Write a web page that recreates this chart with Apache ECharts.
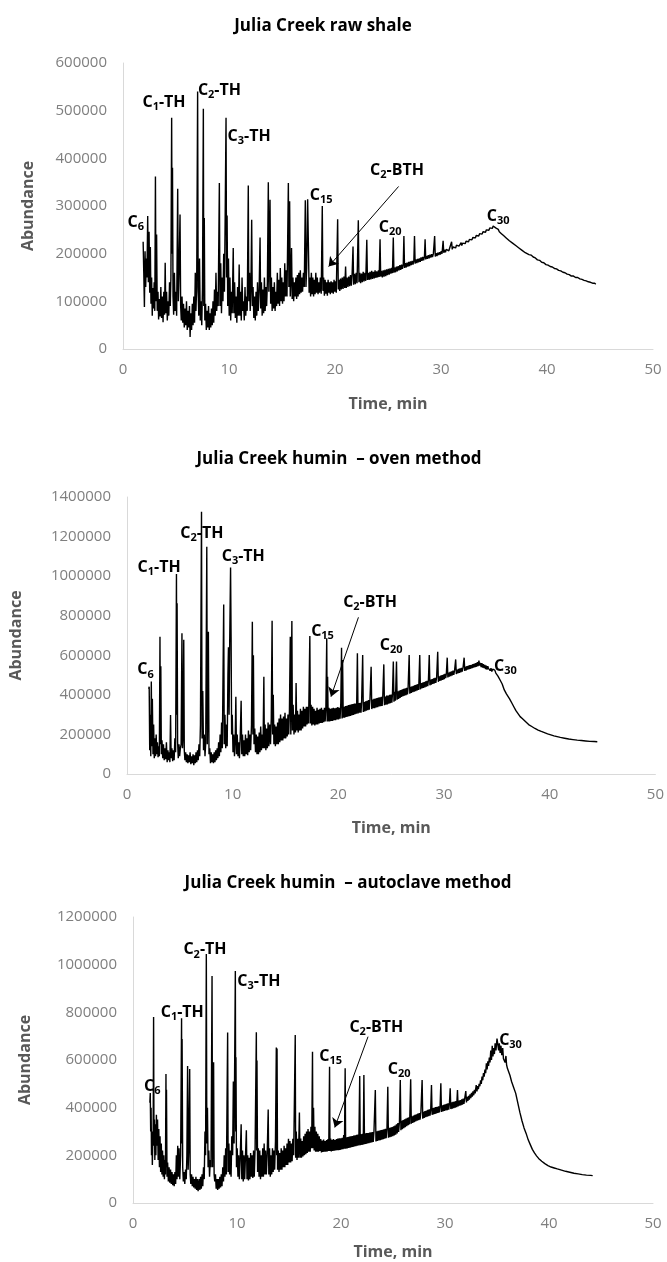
<!DOCTYPE html>
<html>
<head>
<meta charset="utf-8">
<script src="https://cdn.jsdelivr.net/npm/echarts@6/dist/echarts.min.js"></script>
<style>
  html, body { margin: 0; padding: 0; background: #fff; }
  #chart { width: 667px; height: 1262px; }
</style>
</head>
<body>
<div id="chart"></div>
<script>
// chromatogram traces: [time (min), abundance]
var rawShale = [
  [1.9,225e3],[1.96,160e3],[2.02,88e3],[2.08,205e3],[2.14,130e3],[2.2,190e3],[2.26,150e3],[2.33,279e3],[2.39,140e3],[2.46,246e3],
  [2.52,118e3],[2.58,214e3],[2.64,95e3],[2.7,150e3],[2.76,70e3],[2.82,128e3],[2.88,85e3],[2.94,140e3],[3.0,80e3],[3.06,362e3],
  [3.11,100e3],[3.17,240e3],[3.23,80e3],[3.3,120e3],[3.36,62e3],[3.43,105e3],[3.5,68e3],[3.57,130e3],[3.64,65e3],[3.71,110e3],
  [3.78,56e3],[3.85,120e3],[3.92,72e3],[3.98,181e3],[4.04,75e3],[4.11,120e3],[4.18,60e3],[4.25,100e3],[4.32,70e3],[4.39,140e3],
  [4.46,90e3],[4.52,150e3],[4.59,485e3],[4.63,200e3],[4.67,380e3],[4.72,110e3],[4.78,72e3],[4.85,160e3],[4.92,80e3],[4.99,120e3],
  [5.06,70e3],[5.16,336e3],[5.22,100e3],[5.28,150e3],[5.38,282e3],[5.44,90e3],[5.5,60e3],[5.57,110e3],[5.64,55e3],[5.71,95e3],
  [5.78,45e3],[5.85,85e3],[5.92,50e3],[5.99,100e3],[6.06,40e3],[6.13,80e3],[6.2,45e3],[6.27,90e3],[6.33,25e3],[6.4,75e3],
  [6.47,40e3],[6.54,95e3],[6.61,50e3],[6.68,110e3],[6.75,55e3],[6.82,160e3],[6.88,80e3],[6.95,130e3],[7.04,540e3],[7.09,120e3],
  [7.15,70e3],[7.22,190e3],[7.29,60e3],[7.36,100e3],[7.43,50e3],[7.5,130e3],[7.58,504e3],[7.62,90e3],[7.67,275e3],[7.72,60e3],
  [7.79,95e3],[7.86,40e3],[7.93,80e3],[8.0,45e3],[8.07,90e3],[8.14,40e3],[8.21,75e3],[8.28,45e3],[8.35,85e3],[8.42,50e3],
  [8.49,100e3],[8.56,55e3],[8.63,125e3],[8.7,70e3],[8.77,160e3],[8.84,80e3],[8.91,120e3],[8.98,90e3],[9.09,348e3],[9.15,90e3],
  [9.22,180e3],[9.29,75e3],[9.36,150e3],[9.43,100e3],[9.5,200e3],[9.57,120e3],[9.64,280e3],[9.72,485e3],[9.77,150e3],[9.82,280e3],
  [9.88,90e3],[9.95,190e3],[10.02,70e3],[10.09,150e3],[10.16,60e3],[10.23,120e3],[10.3,75e3],[10.4,212e3],[10.46,75e3],[10.53,140e3],
  [10.6,65e3],[10.67,110e3],[10.74,55e3],[10.81,130e3],[10.88,70e3],[10.96,177e3],[11.02,70e3],[11.09,120e3],[11.16,60e3],[11.23,150e3],
  [11.3,80e3],[11.37,100e3],[11.44,60e3],[11.51,130e3],[11.58,70e3],[11.65,110e3],[11.72,80e3],[11.82,343e3],[11.87,100e3],[11.94,160e3],
  [12.0,80e3],[12.07,130e3],[12.14,271e3],[12.2,90e3],[12.27,130e3],[12.34,65e3],[12.41,110e3],[12.48,60e3],[12.55,120e3],[12.62,70e3],
  [12.69,140e3],[12.76,80e3],[12.84,120e3],[12.93,234e3],[12.99,85e3],[13.06,140e3],[13.13,70e3],[13.2,125e3],[13.27,75e3],[13.34,150e3],
  [13.41,80e3],[13.48,130e3],[13.55,90e3],[13.62,140e3],[13.71,350e3],[13.76,120e3],[13.81,200e3],[13.87,313e3],[13.93,95e3],[14.0,150e3],
  [14.07,80e3],[14.14,130e3],[14.21,85e3],[14.28,140e3],[14.35,80e3],[14.42,120e3],[14.49,90e3],[14.56,160e3],[14.63,95e3],[14.7,145e3],
  [14.77,90e3],[14.84,170e3],[14.91,100e3],[14.98,150e3],[15.05,95e3],[15.12,140e3],[15.19,100e3],[15.26,180e3],[15.33,110e3],[15.4,165e3],
  [15.47,110e3],[15.6,348e3],[15.65,130e3],[15.72,310e3],[15.78,110e3],[15.85,160e3],[15.9,212e3],[15.96,105e3],[16.03,150e3],[16.1,100e3],
  [16.17,140e3],[16.24,110e3],[16.31,150e3],[16.38,105e3],[16.45,155e3],[16.52,110e3],[16.59,160e3],[16.66,115e3],[16.73,165e3],[16.8,118e3],
  [16.87,150e3],[16.94,120e3],[17.02,160e3],[17.1,130e3],[17.2,312e3],[17.26,130e3],[17.33,170e3],[17.42,314e3],[17.5,205e3],[17.56,118e3],
  [17.63,150e3],[17.7,110e3],[17.77,160e3],[17.84,115e3],[17.91,150e3],[17.98,110e3],[18.05,145e3],[18.12,115e3],[18.19,160e3],[18.26,118e3],
  [18.33,150e3],[18.4,115e3],[18.47,140e3],[18.54,118e3],[18.62,150e3],[18.7,116e3],[18.8,300e3],[18.86,122e3],[18.93,150e3],[19.0,112e3],
  [19.07,145e3],[19.14,116e3],[19.21,140e3],[19.28,112e3],[19.35,145e3],[19.42,118e3],[19.49,140e3],[19.56,115e3],[19.63,142e3],[19.7,118e3],
  [19.77,140e3],[19.84,116e3],[19.91,145e3],[19.98,120e3],[20.05,142e3],[20.12,118e3],[20.25,272e3],[20.31,125e3],[20.38,145e3],[20.45,122e3],
  [20.52,148e3],[20.6,125e3],[20.68,150e3],[20.76,126e3],[20.84,152e3],[20.92,128e3],[21.0,173e3],[21.06,128e3],[21.14,150e3],[21.22,130e3],
  [21.3,152e3],[21.38,132e3],[21.46,155e3],[21.54,133e3],[21.62,160e3],[21.7,215e3],[21.76,135e3],[21.84,158e3],[21.92,136e3],[22.0,160e3],
  [22.08,138e3],[22.2,270e3],[22.26,140e3],[22.34,160e3],[22.42,138e3],[22.5,158e3],[22.58,140e3],[22.66,162e3],[22.74,142e3],[22.82,160e3],
  [22.9,143e3],[23.0,229e3],[23.06,145e3],[23.14,160e3],[23.22,145e3],[23.3,162e3],[23.38,146e3],[23.46,164e3],[23.54,147e3],[23.62,162e3],
  [23.7,148e3],[23.78,165e3],[23.86,149e3],[23.94,163e3],[24.02,150e3],[24.1,165e3],[24.17,151e3],[24.25,230e3],[24.31,152e3],[24.39,164e3],
  [24.47,150e3],[24.55,165e3],[24.63,152e3],[24.71,166e3],[24.79,153e3],[24.87,167e3],[24.95,155e3],[25.03,168e3],[25.11,156e3],[25.19,169e3],
  [25.27,158e3],[25.35,170e3],[25.42,159e3],[25.5,234e3],[25.56,160e3],[25.64,171e3],[25.72,161e3],[25.8,173e3],[25.88,163e3],[25.96,174e3],
  [26.04,165e3],[26.12,176e3],[26.2,166e3],[26.28,177e3],[26.36,168e3],[26.44,178e3],[26.5,237e3],[26.56,170e3],[26.64,180e3],[26.72,171e3],
  [26.8,181e3],[26.88,173e3],[26.96,183e3],[27.04,174e3],[27.12,184e3],[27.2,176e3],[27.28,185e3],[27.36,177e3],[27.44,186e3],[27.5,237e3],
  [27.56,179e3],[27.64,188e3],[27.72,180e3],[27.8,189e3],[27.88,182e3],[27.96,190e3],[28.04,183e3],[28.12,192e3],[28.2,185e3],[28.28,193e3],
  [28.36,186e3],[28.44,194e3],[28.5,230e3],[28.56,188e3],[28.64,195e3],[28.72,189e3],[28.8,197e3],[28.88,190e3],[28.96,198e3],[29.04,192e3],
  [29.12,199e3],[29.2,193e3],[29.28,200e3],[29.4,237e3],[29.46,194e3],[29.54,201e3],[29.62,195e3],[29.7,202e3],[29.78,197e3],[29.86,203e3],
  [29.94,198e3],[30.02,205e3],[30.1,200e3],[30.2,227e3],[30.26,202e3],[30.34,208e3],[30.42,203e3],[30.5,209e3],[30.58,205e3],[30.66,211e3],
  [30.74,206e3],[30.82,212e3],[30.9,208e3],[31.0,225e3],[31.06,209e3],[31.14,214e3],[31.22,211e3],[31.3,216e3],[31.38,212e3],[31.46,218e3],
  [31.54,214e3],[31.62,219e3],[31.7,216e3],[31.78,220e3],[31.9,223e3],[31.96,217e3],[32.04,222e3],[32.12,219e3],[32.2,224e3],[32.28,221e3],
  [32.36,226e3],[32.44,223e3],[32.52,228e3],[32.6,225e3],[32.68,230e3],[32.76,227e3],[32.84,232e3],[32.92,229e3],[33.0,234e3],[33.08,231e3],
  [33.16,236e3],[33.24,233e3],[33.32,238e3],[33.4,235e3],[33.48,240e3],[33.56,237e3],[33.64,242e3],[33.72,239e3],[33.8,244e3],[33.88,241e3],
  [33.96,246e3],[34.04,243e3],[34.12,248e3],[34.2,245e3],[34.28,250e3],[34.36,247e3],[34.44,252e3],[34.52,249e3],[34.6,254e3],[34.68,251e3],
  [34.76,256e3],[34.84,253e3],[34.92,258e3],[35.0,255e3],[35.08,259e3],[35.16,254e3],[35.24,256e3],[35.32,250e3],[35.4,251e3],[35.5,246e3],
  [35.6,247e3],[35.7,242e3],[35.8,242e3],[35.9,238e3],[36.0,237e3],[36.15,233e3],[36.3,231e3],[36.45,227e3],[36.6,226e3],[36.75,222e3],
  [36.9,221e3],[37.05,217e3],[37.2,216e3],[37.35,212e3],[37.5,211e3],[37.65,207e3],[37.8,206e3],[37.95,202e3],[38.1,202e3],[38.3,198e3],
  [38.5,197e3],[38.7,193e3],[38.9,191e3],[39.1,187e3],[39.3,186e3],[39.5,182e3],[39.7,181e3],[39.9,177e3],[40.1,176e3],[40.3,173e3],
  [40.5,172e3],[40.7,169e3],[40.9,168e3],[41.1,165e3],[41.3,164e3],[41.5,161e3],[41.7,160e3],[41.9,157e3],[42.1,156e3],[42.3,153e3],
  [42.5,153e3],[42.7,150e3],[42.9,150e3],[43.1,147e3],[43.3,146e3],[43.5,144e3],[43.7,143e3],[43.9,141e3],[44.1,140e3],[44.3,138e3],
  [44.5,138e3],[44.6,136e3]
];

var ovenHumin = [
  [2.05,430e3],[2.1,441e3],[2.15,120e3],[2.2,300e3],[2.25,90e3],[2.3,467e3],[2.35,140e3],[2.4,380e3],[2.46,100e3],[2.52,250e3],
  [2.58,80e3],[2.64,180e3],[2.7,90e3],[2.76,200e3],[2.82,100e3],[2.88,160e3],[2.94,85e3],[3.0,140e3],[3.06,90e3],[3.12,694e3],
  [3.16,150e3],[3.2,545e3],[3.25,100e3],[3.31,170e3],[3.38,80e3],[3.45,150e3],[3.52,70e3],[3.59,130e3],[3.66,75e3],[3.73,160e3],
  [3.8,60e3],[3.87,120e3],[3.94,70e3],[4.0,110e3],[4.06,60e3],[4.12,298e3],[4.18,80e3],[4.25,130e3],[4.32,65e3],[4.39,120e3],
  [4.46,70e3],[4.53,180e3],[4.6,110e3],[4.68,1011e3],[4.71,300e3],[4.74,863e3],[4.79,160e3],[4.85,80e3],[4.92,150e3],[4.98,90e3],
  [5.05,130e3],[5.12,150e3],[5.2,711e3],[5.25,130e3],[5.31,200e3],[5.37,678e3],[5.42,120e3],[5.48,70e3],[5.55,110e3],[5.62,60e3],
  [5.69,100e3],[5.76,55e3],[5.83,95e3],[5.9,60e3],[5.97,110e3],[6.04,50e3],[6.11,90e3],[6.18,55e3],[6.25,100e3],[6.32,45e3],
  [6.39,95e3],[6.46,55e3],[6.53,110e3],[6.6,60e3],[6.67,120e3],[6.74,70e3],[6.81,150e3],[6.88,90e3],[6.95,250e3],[7.05,1326e3],
  [7.1,180e3],[7.17,420e3],[7.24,120e3],[7.31,200e3],[7.38,90e3],[7.45,160e3],[7.55,1149e3],[7.6,150e3],[7.66,400e3],[7.7,719e3],
  [7.76,100e3],[7.83,130e3],[7.9,55e3],[7.97,110e3],[8.04,60e3],[8.11,100e3],[8.18,55e3],[8.25,110e3],[8.32,60e3],[8.39,120e3],
  [8.46,70e3],[8.53,130e3],[8.6,80e3],[8.67,160e3],[8.74,90e3],[8.81,200e3],[8.88,110e3],[8.95,260e3],[9.02,130e3],[9.15,857e3],
  [9.2,150e3],[9.27,300e3],[9.34,130e3],[9.41,250e3],[9.48,140e3],[9.55,500e3],[9.6,640e3],[9.66,300e3],[9.72,680e3],[9.8,1044e3],
  [9.85,690e3],[9.9,200e3],[9.96,300e3],[10.03,110e3],[10.1,200e3],[10.17,90e3],[10.24,180e3],[10.3,391e3],[10.36,100e3],[10.43,200e3],
  [10.5,90e3],[10.57,160e3],[10.64,80e3],[10.71,180e3],[10.8,370e3],[10.86,100e3],[10.93,200e3],[11.0,90e3],[11.07,170e3],[11.14,90e3],
  [11.21,200e3],[11.28,100e3],[11.35,180e3],[11.42,95e3],[11.49,220e3],[11.56,110e3],[11.63,200e3],[11.7,120e3],[11.78,250e3],[11.86,770e3],
  [11.91,200e3],[11.96,600e3],[12.02,150e3],[12.09,230e3],[12.16,110e3],[12.23,200e3],[12.3,100e3],[12.37,190e3],[12.44,100e3],[12.51,210e3],
  [12.58,110e3],[12.65,240e3],[12.72,120e3],[12.8,200e3],[12.87,130e3],[12.95,492e3],[13.0,130e3],[13.07,250e3],[13.14,120e3],[13.21,230e3],
  [13.28,130e3],[13.35,260e3],[13.42,140e3],[13.5,250e3],[13.58,150e3],[13.65,280e3],[13.73,775e3],[13.78,200e3],[13.84,400e3],[13.9,150e3],
  [13.97,250e3],[14.04,140e3],[14.11,240e3],[14.18,150e3],[14.25,260e3],[14.32,150e3],[14.39,280e3],[14.46,160e3],[14.53,300e3],[14.6,170e3],
  [14.67,280e3],[14.74,170e3],[14.81,290e3],[14.88,180e3],[14.95,310e3],[15.02,180e3],[15.09,280e3],[15.16,190e3],[15.23,300e3],[15.3,200e3],
  [15.37,320e3],[15.45,694e3],[15.5,200e3],[15.6,773e3],[15.65,220e3],[15.72,350e3],[15.8,200e3],[15.87,300e3],[15.94,210e3],[16.0,460e3],
  [16.06,220e3],[16.13,320e3],[16.2,210e3],[16.27,300e3],[16.34,220e3],[16.41,330e3],[16.48,220e3],[16.55,320e3],[16.62,230e3],[16.69,340e3],
  [16.76,240e3],[16.83,330e3],[16.9,240e3],[16.97,340e3],[17.04,250e3],[17.11,340e3],[17.18,255e3],[17.3,697e3],[17.35,255e3],[17.42,350e3],
  [17.49,245e3],[17.56,340e3],[17.63,250e3],[17.7,330e3],[17.77,245e3],[17.84,320e3],[17.91,250e3],[17.98,335e3],[18.05,250e3],[18.12,325e3],
  [18.19,255e3],[18.26,330e3],[18.33,258e3],[18.4,335e3],[18.47,258e3],[18.54,325e3],[18.61,262e3],[18.68,335e3],[18.75,265e3],[18.82,340e3],
  [18.9,686e3],[18.94,265e3],[18.98,492e3],[19.04,265e3],[19.11,335e3],[19.18,265e3],[19.25,330e3],[19.32,268e3],[19.39,332e3],[19.46,268e3],
  [19.53,335e3],[19.6,272e3],[19.67,332e3],[19.74,272e3],[19.81,335e3],[19.88,276e3],[19.95,338e3],[20.02,276e3],[20.09,335e3],[20.16,280e3],
  [20.23,360e3],[20.3,638e3],[20.35,280e3],[20.4,576e3],[20.46,285e3],[20.53,340e3],[20.6,285e3],[20.67,343e3],[20.74,288e3],[20.81,345e3],
  [20.88,290e3],[20.95,348e3],[21.02,292e3],[21.09,350e3],[21.16,294e3],[21.23,352e3],[21.3,297e3],[21.37,353e3],[21.44,298e3],[21.51,356e3],
  [21.58,302e3],[21.65,356e3],[21.72,305e3],[21.8,610e3],[21.86,306e3],[21.93,358e3],[22.0,310e3],[22.07,360e3],[22.14,310e3],[22.2,364e3],
  [22.3,601e3],[22.36,314e3],[22.43,364e3],[22.5,316e3],[22.57,368e3],[22.64,320e3],[22.71,370e3],[22.78,322e3],[22.85,374e3],[22.92,325e3],
  [22.99,375e3],[23.1,542e3],[23.16,328e3],[23.23,376e3],[23.3,332e3],[23.37,380e3],[23.44,333e3],[23.51,381e3],[23.58,336e3],[23.65,384e3],
  [23.72,338e3],[23.79,386e3],[23.86,341e3],[23.93,387e3],[24.0,343e3],[24.07,390e3],[24.14,344e3],[24.2,391e3],[24.3,554e3],[24.36,348e3],
  [24.43,392e3],[24.5,350e3],[24.57,396e3],[24.64,352e3],[24.71,397e3],[24.78,355e3],[24.85,400e3],[24.92,358e3],[24.99,402e3],[25.06,360e3],
  [25.12,405e3],[25.2,568e3],[25.26,365e3],[25.33,415e3],[25.4,370e3],[25.5,568e3],[25.56,375e3],[25.63,418e3],[25.7,380e3],[25.77,422e3],
  [25.84,385e3],[25.91,424e3],[25.98,390e3],[26.05,428e3],[26.12,393e3],[26.19,430e3],[26.26,396e3],[26.33,433e3],[26.4,399e3],[26.47,435e3],
  [26.54,402e3],[26.6,438e3],[26.7,601e3],[26.76,406e3],[26.83,440e3],[26.9,410e3],[26.97,443e3],[27.04,413e3],[27.11,446e3],[27.18,416e3],
  [27.25,449e3],[27.32,419e3],[27.39,452e3],[27.46,422e3],[27.53,454e3],[27.6,425e3],[27.7,601e3],[27.76,428e3],[27.83,459e3],[27.9,432e3],
  [27.97,462e3],[28.04,435e3],[28.11,465e3],[28.18,438e3],[28.25,468e3],[28.32,441e3],[28.39,471e3],[28.46,444e3],[28.52,474e3],[28.6,601e3],
  [28.66,448e3],[28.73,477e3],[28.8,452e3],[28.87,480e3],[28.94,455e3],[29.01,483e3],[29.08,458e3],[29.15,486e3],[29.22,461e3],[29.3,490e3],
  [29.4,618e3],[29.46,466e3],[29.53,493e3],[29.6,470e3],[29.67,497e3],[29.74,473e3],[29.81,500e3],[29.88,476e3],[29.95,503e3],[30.02,480e3],
  [30.09,506e3],[30.16,484e3],[30.22,510e3],[30.3,588e3],[30.36,488e3],[30.43,513e3],[30.5,492e3],[30.57,516e3],[30.64,495e3],[30.71,519e3],
  [30.78,498e3],[30.85,522e3],[30.92,501e3],[31.0,525e3],[31.1,579e3],[31.16,505e3],[31.23,528e3],[31.3,508e3],[31.37,531e3],[31.44,511e3],
  [31.51,534e3],[31.58,514e3],[31.65,536e3],[31.72,517e3],[31.8,539e3],[31.9,588e3],[31.96,521e3],[32.03,542e3],[32.1,524e3],[32.17,545e3],
  [32.24,527e3],[32.31,548e3],[32.38,530e3],[32.45,550e3],[32.52,532e3],[32.59,552e3],[32.66,535e3],[32.73,555e3],[32.8,538e3],[32.87,558e3],
  [32.94,540e3],[33.01,560e3],[33.08,542e3],[33.15,565e3],[33.22,545e3],[33.3,573e3],[33.37,548e3],[33.44,562e3],[33.51,540e3],[33.58,560e3],
  [33.65,538e3],[33.72,555e3],[33.79,535e3],[33.86,552e3],[33.93,530e3],[34.0,548e3],[34.07,528e3],[34.14,545e3],[34.2,534e3],[34.28,540e3],
  [34.36,522e3],[34.44,535e3],[34.52,518e3],[34.6,530e3],[34.7,520e3],[34.8,525e3],[34.9,510e3],[35.0,505e3],[35.1,495e3],[35.2,485e3],
  [35.3,475e3],[35.4,470e3],[35.5,455e3],[35.6,440e3],[35.7,425e3],[35.8,415e3],[35.9,405e3],[36.0,398e3],[36.2,380e3],[36.4,360e3],
  [36.6,340e3],[36.8,320e3],[37.0,305e3],[37.2,290e3],[37.4,280e3],[37.6,270e3],[37.8,260e3],[38.0,250e3],[38.3,240e3],[38.6,230e3],
  [38.9,222e3],[39.2,215e3],[39.5,209e3],[39.8,203e3],[40.1,198e3],[40.4,193e3],[40.7,189e3],[41.0,185e3],[41.4,181e3],[41.8,177e3],
  [42.2,174e3],[42.6,171e3],[43.0,169e3],[43.4,167e3],[43.8,165e3],[44.2,164e3],[44.5,163e3]
];

var autoclaveHumin = [
  [1.62,420e3],[1.66,461e3],[1.7,300e3],[1.74,400e3],[1.78,200e3],[1.82,300e3],[1.86,160e3],[1.9,250e3],[1.94,300e3],[1.98,780e3],
  [2.02,240e3],[2.06,350e3],[2.1,180e3],[2.15,330e3],[2.2,200e3],[2.25,370e3],[2.3,240e3],[2.36,350e3],[2.42,180e3],[2.48,310e3],
  [2.54,150e3],[2.6,280e3],[2.66,130e3],[2.72,250e3],[2.78,120e3],[2.84,220e3],[2.9,110e3],[2.96,200e3],[3.02,100e3],[3.08,180e3],
  [3.12,120e3],[3.17,541e3],[3.2,150e3],[3.22,475e3],[3.27,110e3],[3.33,170e3],[3.4,90e3],[3.47,150e3],[3.54,85e3],[3.61,140e3],
  [3.68,80e3],[3.75,130e3],[3.82,75e3],[3.89,120e3],[3.96,70e3],[4.03,130e3],[4.1,80e3],[4.17,200e3],[4.23,100e3],[4.3,240e3],
  [4.36,110e3],[4.43,230e3],[4.5,100e3],[4.58,200e3],[4.67,775e3],[4.7,250e3],[4.72,688e3],[4.78,150e3],[4.84,90e3],[4.91,130e3],
  [4.98,80e3],[5.05,140e3],[5.12,100e3],[5.18,200e3],[5.25,575e3],[5.3,140e3],[5.36,220e3],[5.45,562e3],[5.5,120e3],[5.56,80e3],
  [5.63,120e3],[5.7,70e3],[5.77,110e3],[5.84,65e3],[5.91,100e3],[5.98,60e3],[6.05,110e3],[6.12,55e3],[6.19,100e3],[6.26,50e3],
  [6.3,42e3],[6.36,100e3],[6.43,55e3],[6.5,110e3],[6.57,60e3],[6.64,120e3],[6.71,70e3],[6.78,150e3],[6.85,100e3],[6.92,300e3],
  [6.98,200e3],[7.05,1045e3],[7.1,250e3],[7.16,400e3],[7.22,150e3],[7.29,220e3],[7.36,110e3],[7.43,180e3],[7.5,150e3],[7.6,952e3],
  [7.65,150e3],[7.7,400e3],[7.75,591e3],[7.8,120e3],[7.86,90e3],[7.93,120e3],[8.0,60e3],[8.07,100e3],[8.14,55e3],[8.21,100e3],
  [8.28,60e3],[8.35,110e3],[8.42,65e3],[8.49,120e3],[8.56,70e3],[8.63,150e3],[8.7,90e3],[8.77,200e3],[8.84,110e3],[8.91,230e3],
  [8.98,120e3],[9.1,715e3],[9.15,130e3],[9.22,250e3],[9.29,120e3],[9.36,220e3],[9.43,110e3],[9.5,280e3],[9.58,200e3],[9.65,510e3],
  [9.72,250e3],[9.84,973e3],[9.88,300e3],[9.9,612e3],[9.95,150e3],[10.02,230e3],[10.09,110e3],[10.16,200e3],[10.23,100e3],[10.3,180e3],
  [10.4,330e3],[10.46,100e3],[10.53,220e3],[10.6,90e3],[10.67,200e3],[10.74,100e3],[10.81,190e3],[10.9,305e3],[10.96,100e3],[11.03,200e3],
  [11.1,95e3],[11.17,190e3],[11.24,100e3],[11.31,210e3],[11.38,110e3],[11.45,200e3],[11.52,105e3],[11.59,220e3],[11.66,110e3],[11.74,230e3],
  [11.86,716e3],[11.89,220e3],[11.92,598e3],[11.98,130e3],[12.05,230e3],[12.12,110e3],[12.19,220e3],[12.26,100e3],[12.33,200e3],[12.4,110e3],
  [12.47,230e3],[12.54,110e3],[12.61,250e3],[12.68,120e3],[12.75,220e3],[12.82,120e3],[12.9,200e3],[13.0,392e3],[13.06,120e3],[13.13,230e3],
  [13.2,110e3],[13.27,200e3],[13.34,120e3],[13.41,230e3],[13.48,130e3],[13.55,220e3],[13.62,140e3],[13.7,260e3],[13.78,652e3],[13.82,200e3],
  [13.85,648e3],[13.9,140e3],[13.97,220e3],[14.04,130e3],[14.11,210e3],[14.18,140e3],[14.25,230e3],[14.32,140e3],[14.39,220e3],[14.46,150e3],
  [14.53,240e3],[14.6,150e3],[14.67,230e3],[14.74,160e3],[14.81,250e3],[14.88,160e3],[14.95,270e3],[15.02,170e3],[15.09,260e3],[15.16,170e3],
  [15.23,250e3],[15.3,175e3],[15.37,270e3],[15.45,200e3],[15.6,705e3],[15.64,190e3],[15.7,300e3],[15.77,180e3],[15.84,270e3],[15.91,190e3],
  [16.0,380e3],[16.06,190e3],[16.13,270e3],[16.2,190e3],[16.27,260e3],[16.34,195e3],[16.41,280e3],[16.48,200e3],[16.55,290e3],[16.62,205e3],
  [16.69,300e3],[16.76,210e3],[16.83,310e3],[16.9,215e3],[16.97,300e3],[17.04,215e3],[17.11,320e3],[17.18,230e3],[17.26,635e3],[17.3,230e3],
  [17.36,400e3],[17.42,220e3],[17.49,320e3],[17.56,215e3],[17.63,300e3],[17.7,215e3],[17.77,290e3],[17.84,215e3],[17.91,280e3],[17.98,218e3],
  [18.05,268e3],[18.12,212e3],[18.19,262e3],[18.26,214e3],[18.33,266e3],[18.4,215e3],[18.47,260e3],[18.54,215e3],[18.61,264e3],[18.68,216e3],
  [18.75,268e3],[18.82,218e3],[18.9,572e3],[18.94,218e3],[19.0,270e3],[19.07,216e3],[19.14,265e3],[19.21,218e3],[19.28,268e3],[19.35,219e3],
  [19.42,264e3],[19.49,220e3],[19.56,268e3],[19.63,221e3],[19.7,270e3],[19.77,222e3],[19.84,272e3],[19.91,223e3],[19.98,272e3],[20.05,225e3],
  [20.12,274e3],[20.19,226e3],[20.26,285e3],[20.33,228e3],[20.4,565e3],[20.45,228e3],[20.52,276e3],[20.59,229e3],[20.66,277e3],[20.73,231e3],
  [20.8,279e3],[20.87,232e3],[20.94,280e3],[21.01,234e3],[21.08,281e3],[21.15,235e3],[21.22,283e3],[21.29,237e3],[21.36,284e3],[21.43,238e3],
  [21.5,286e3],[21.57,240e3],[21.64,287e3],[21.71,241e3],[21.8,533e3],[21.85,242e3],[21.92,289e3],[22.0,244e3],[22.07,290e3],[22.14,245e3],
  [22.2,537e3],[22.26,247e3],[22.33,292e3],[22.4,248e3],[22.47,293e3],[22.54,250e3],[22.61,294e3],[22.68,251e3],[22.75,296e3],[22.82,253e3],
  [22.89,297e3],[22.96,254e3],[23.03,298e3],[23.1,256e3],[23.17,300e3],[23.3,474e3],[23.36,258e3],[23.43,301e3],[23.5,260e3],[23.57,303e3],
  [23.64,262e3],[23.71,304e3],[23.78,264e3],[23.85,306e3],[23.92,266e3],[23.99,307e3],[24.06,268e3],[24.13,309e3],[24.2,270e3],[24.27,311e3],
  [24.34,272e3],[24.42,313e3],[24.5,488e3],[24.56,274e3],[24.63,315e3],[24.7,276e3],[24.77,317e3],[24.84,278e3],[24.91,319e3],[24.98,280e3],
  [25.05,322e3],[25.12,283e3],[25.19,325e3],[25.26,287e3],[25.33,330e3],[25.4,292e3],[25.47,335e3],[25.54,298e3],[25.62,340e3],[25.7,516e3],
  [25.76,305e3],[25.83,345e3],[25.9,310e3],[25.97,348e3],[26.04,314e3],[26.11,351e3],[26.18,318e3],[26.25,354e3],[26.32,322e3],[26.39,357e3],
  [26.46,326e3],[26.53,360e3],[26.6,330e3],[26.7,519e3],[26.76,333e3],[26.83,364e3],[26.9,336e3],[26.97,367e3],[27.04,339e3],[27.11,370e3],
  [27.18,342e3],[27.25,372e3],[27.32,345e3],[27.39,375e3],[27.46,348e3],[27.53,377e3],[27.6,350e3],[27.68,380e3],[27.8,516e3],[27.86,354e3],
  [27.93,383e3],[28.0,357e3],[28.07,386e3],[28.14,360e3],[28.21,388e3],[28.28,362e3],[28.35,391e3],[28.42,364e3],[28.49,393e3],[28.56,366e3],
  [28.63,395e3],[28.7,495e3],[28.76,370e3],[28.83,398e3],[28.9,372e3],[28.97,400e3],[29.04,374e3],[29.11,402e3],[29.18,376e3],[29.25,404e3],
  [29.32,378e3],[29.39,406e3],[29.46,380e3],[29.53,408e3],[29.6,502e3],[29.66,382e3],[29.73,410e3],[29.8,384e3],[29.87,412e3],[29.94,386e3],
  [30.01,414e3],[30.08,388e3],[30.15,416e3],[30.22,390e3],[30.29,418e3],[30.36,392e3],[30.43,420e3],[30.5,481e3],[30.56,394e3],[30.63,422e3],
  [30.7,396e3],[30.77,424e3],[30.84,398e3],[30.91,426e3],[30.98,400e3],[31.05,428e3],[31.12,402e3],[31.2,474e3],[31.26,405e3],[31.33,430e3],
  [31.4,408e3],[31.47,432e3],[31.54,410e3],[31.61,435e3],[31.68,413e3],[31.75,438e3],[31.82,416e3],[31.9,440e3],[32.0,470e3],[32.06,422e3],
  [32.13,445e3],[32.2,428e3],[32.27,450e3],[32.34,434e3],[32.41,456e3],[32.48,440e3],[32.55,462e3],[32.62,446e3],[32.69,468e3],[32.76,452e3],
  [32.83,475e3],[32.9,460e3],[33.0,495e3],[33.07,468e3],[33.14,490e3],[33.21,478e3],[33.28,500e3],[33.35,490e3],[33.42,515e3],[33.49,500e3],
  [33.56,530e3],[33.63,515e3],[33.7,545e3],[33.77,530e3],[33.84,560e3],[33.91,545e3],[33.98,586e3],[34.05,560e3],[34.12,595e3],[34.19,575e3],
  [34.26,610e3],[34.33,590e3],[34.4,640e3],[34.47,600e3],[34.54,660e3],[34.61,615e3],[34.68,650e3],[34.75,625e3],[34.82,670e3],[34.9,640e3],
  [35.0,690e3],[35.1,698e3],[35.16,640e3],[35.22,670e3],[35.3,630e3],[35.38,660e3],[35.46,620e3],[35.55,650e3],[35.62,605e3],[35.7,612e3],
  [35.78,590e3],[35.86,617e3],[35.92,580e3],[36.0,565e3],[36.1,558e3],[36.25,535e3],[36.4,510e3],[36.6,485e3],[36.8,460e3],[37.0,420e3],
  [37.2,380e3],[37.4,345e3],[37.6,315e3],[37.8,292e3],[38.0,265e3],[38.2,245e3],[38.4,225e3],[38.6,210e3],[38.8,198e3],[39.0,187e3],
  [39.3,175e3],[39.6,165e3],[39.9,157e3],[40.2,151e3],[40.5,147e3],[40.8,143e3],[41.2,138e3],[41.6,133e3],[42.0,129e3],[42.4,125e3],
  [42.8,122e3],[43.2,119e3],[43.6,117e3],[44.0,116e3],[44.2,115e3]
];

// peak labels: [text, time, abundance]   (_n marks a subscript)
var rawLabels = [
  ['C_6', 1.2, 265e3], ['C_1-TH', 3.87, 517e3], ['C_2-TH', 9.1, 542e3], ['C_3-TH', 11.9, 446e3],
  ['C_2-BTH', 25.85, 375e3], ['C_15', 18.7, 323e3], ['C_20', 25.2, 256e3], ['C_30', 35.4, 278e3]
];
var ovenLabels = [
  ['C_6', 1.75, 526e3], ['C_1-TH', 3.04, 1045e3], ['C_2-TH', 7.08, 1216e3], ['C_3-TH', 11.0, 1098e3],
  ['C_2-BTH', 23.0, 866e3], ['C_15', 18.5, 719e3], ['C_20', 25.0, 652e3], ['C_30', 35.8, 542e3]
];
var autoclaveLabels = [
  ['C_6', 1.86, 488e3], ['C_1-TH', 4.74, 798e3], ['C_2-TH', 6.92, 1062e3], ['C_3-TH', 12.1, 931e3],
  ['C_2-BTH', 23.4, 736e3], ['C_15', 19.0, 614e3], ['C_20', 25.6, 561e3], ['C_30', 36.3, 684e3]
];

// C2-BTH arrows: [fromTime, fromAbund, toTime, toAbund]
var rawArrow = [26.0, 341e3, 19.4, 173e3];
var ovenArrow = [21.9, 792e3, 19.3, 391e3];
var autoclaveArrow = [22.6, 698e3, 19.4, 317e3];

var titles = ['Julia Creek raw shale', 'Julia Creek humin  \u2013 oven method', 'Julia Creek humin  \u2013 autoclave method'];
var yMax = [600000, 1400000, 1200000];
var yStep = [100000, 200000, 200000];

var FONT = '"Open Sans", "Liberation Sans", sans-serif';

var chart = echarts.init(document.getElementById('chart'), null, { renderer: 'canvas' });

function richText(s) {
  return '{c|' + s.replace(/_(\d+)/, '}{s|$1}{c|') + '}';
}

var grids = [
  { left: 123, top: 63, width: 530, height: 286 },
  { left: 126, top: 497, width: 534, height: 277 },
  { left: 133, top: 917, width: 520, height: 286 }
];
var nameGapX = [47, 46, 41];
var nameGapY = [87, 103, 100];
var traces = [rawShale, ovenHumin, autoclaveHumin];
var labelSets = [rawLabels, ovenLabels, autoclaveLabels];
var arrows = [rawArrow, ovenArrow, autoclaveArrow];
var titlePos = [[323, 26], [339, 459], [348, 883]];

var xAxes = [], yAxes = [], series = [], graphics = [];
for (var i = 0; i < 3; i++) {
  xAxes.push({
    gridIndex: i, type: 'value', min: 0, max: 50, interval: 10,
    axisLine: { show: true, onZero: false, lineStyle: { color: '#d9d9d9', width: 1 } },
    axisTick: { show: false },
    splitLine: { show: false },
    axisLabel: { color: '#7f7f7f', fontSize: 15, fontFamily: FONT, margin: 13 },
    name: 'Time, min', nameLocation: 'middle', nameGap: nameGapX[i],
    nameTextStyle: { color: '#595959', fontSize: 16, fontWeight: 'bold', fontFamily: FONT }
  });
  yAxes.push({
    gridIndex: i, type: 'value', min: 0, max: yMax[i], interval: yStep[i],
    axisLine: { show: true, lineStyle: { color: '#d9d9d9', width: 1 } },
    axisTick: { show: false },
    splitLine: { show: false },
    axisLabel: {
      color: '#7f7f7f', fontSize: 15, fontFamily: FONT, margin: 16,
      formatter: function (v) { return String(v); }
    },
    name: 'Abundance', nameLocation: 'middle', nameGap: nameGapY[i], nameRotate: 90,
    nameTextStyle: { color: '#595959', fontSize: 16, fontWeight: 'bold', fontFamily: FONT }
  });
  var a = arrows[i];
  series.push({
    type: 'line',
    xAxisIndex: i, yAxisIndex: i,
    data: traces[i],
    showSymbol: false,
    symbol: 'none',
    sampling: null,
    lineStyle: { color: '#000', width: 1.4 },
    silent: true,
    markPoint: {
      silent: true,
      symbol: 'circle', symbolSize: 0,
      label: {
        show: true, position: 'inside',
        formatter: function (p) { return richText(p.name); },
        rich: {
          c: { fontSize: 16, fontWeight: 'bold', color: '#000', fontFamily: FONT, lineHeight: 19 },
          s: { fontSize: 11, fontWeight: 'bold', color: '#000', fontFamily: FONT, lineHeight: 11, padding: [9, 0, 0, 0] }
        }
      },
      data: labelSets[i].map(function (l) { return { name: l[0], coord: [l[1], l[2]] }; })
    },
    markLine: {
      silent: true,
      symbol: ['none', 'arrow'], symbolSize: 9,
      label: { show: false },
      lineStyle: { color: '#000', width: 1, type: 'solid' },
      data: [[{ coord: [a[0], a[1]] }, { coord: [a[2], a[3]] }]]
    }
  });
  graphics.push({
    type: 'text', x: titlePos[i][0], y: titlePos[i][1], silent: true,
    style: {
      text: titles[i], fill: '#000', align: 'center', verticalAlign: 'middle',
      font: 'bold 17px ' + FONT
    }
  });
}

chart.setOption({
  animation: false,
  backgroundColor: '#fff',
  grid: grids,
  xAxis: xAxes,
  yAxis: yAxes,
  series: series,
  graphic: graphics
});
</script>
</body>
</html>
